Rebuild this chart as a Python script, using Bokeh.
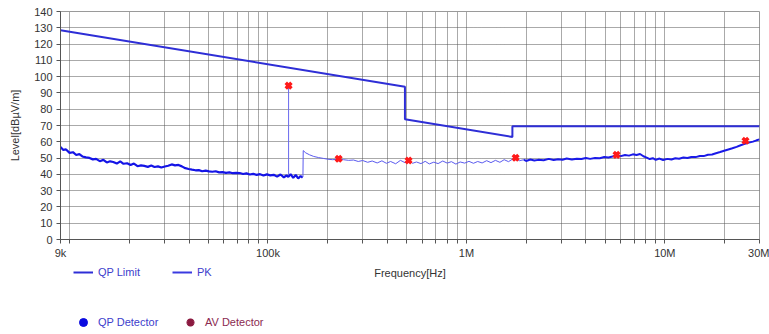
from bokeh.plotting import figure
from bokeh.layouts import column
from bokeh.models import (Range1d, FixedTicker, CustomJSTickFormatter, Legend, LegendItem,
                          ColumnDataSource, Label)
from bokeh.embed import file_html
from bokeh.resources import INLINE

# ---- data ----
# limit line (QP Limit)
limit_freq = [9e3, 490e3, 490e3, 1.705e6, 1.705e6, 30e6]
limit_level = [128.5, 93.8, 73.8, 63.0, 69.5, 69.5]

# measured PK trace, 9 kHz - 150 kHz (kHz)
segA_khz = [9.0, 9.3, 9.6, 10.0, 10.4, 10.8, 11.2, 11.6, 12.1, 12.6, 13.1, 13.6, 14.2, 14.8,
            15.4, 16.0, 16.6, 17.3, 18.0, 18.7, 19.5, 20.3, 21.1, 22.0, 22.9, 23.8, 24.8,
            25.8, 26.8, 27.9, 29.0, 30.2, 31.4, 32.7, 34.0, 35.4, 36.8, 38.3, 39.8, 41.4,
            43.1, 44.8, 46.6, 48.5, 50.4, 52.4, 54.5, 56.7, 59.0, 61.4, 63.9, 66.5, 69.2,
            72.0, 74.9, 77.9, 81.0, 84.3, 87.7, 91.2, 94.9, 98.7, 102.7, 106.8, 111.1,
            115.6, 120.2, 124.0, 126.6, 127.4, 130.0, 134.0, 138.0, 142.0, 146.0, 149.5]
segA_level = [56.8, 55.0, 55.3, 53.2, 53.6, 51.9, 52.4, 51.0, 50.4, 50.1, 49.2, 49.5, 48.1, 48.9,
              47.3, 48.0, 47.6, 46.6, 48.0, 46.5, 46.8, 45.7, 46.6, 45.0, 45.5, 45.2, 44.6,
              45.4, 44.5, 44.9, 44.2, 44.8, 45.3, 46.1, 45.5, 45.8, 44.9, 43.8, 43.3, 42.9,
              42.5, 42.6, 41.9, 42.3, 41.8, 41.6, 41.9, 41.2, 41.4, 40.9, 41.2, 40.7, 40.9,
              40.8, 40.2, 40.6, 39.9, 40.3, 39.7, 40.1, 39.3, 40.0, 39.4, 39.7, 38.6,
              39.9, 38.2, 39.3, 38.5, 38.9, 40.1, 37.9, 39.6, 37.5, 39.0, 38.0]

# narrow spike at ~127 kHz
spike_khz = [127.0, 127.0]
spike_level = [39.5, 94.5]

# measured PK trace, 150 kHz - 2 MHz (kHz)
segB_khz = [150, 150.5, 155, 162, 170, 180, 190, 200, 212, 227, 240, 255, 270, 285, 300, 318,
            335, 355, 375, 395, 415, 440, 465, 490, 511, 535, 560, 590, 620, 650, 685, 720,
            760, 800, 840, 885, 930, 980, 1030, 1085, 1140, 1200, 1265, 1330, 1400, 1475,
            1550, 1630, 1710, 1770, 1850, 1950]
segB_level = [38.5, 54.6, 53.2, 52.0, 51.0, 50.3, 49.8, 49.3, 49.0, 49.4, 49.0, 48.6, 48.8, 47.9,
              48.5, 47.4, 48.2, 47.0, 48.3, 46.8, 47.9, 46.5, 48.6, 47.2, 48.6, 46.8, 47.6,
              46.6, 48.0, 46.4, 47.5, 46.6, 48.2, 46.9, 47.8, 46.3, 47.6, 46.9, 48.0, 46.8,
              47.9, 47.0, 48.4, 47.2, 48.6, 47.4, 49.0, 47.8, 49.4, 49.8, 48.4, 49.0]

# measured PK trace, 2 MHz - 30 MHz (MHz)
segC_mhz = [1.95, 2.0, 2.1, 2.2, 2.3, 2.45, 2.6, 2.75, 2.9, 3.05, 3.2, 3.4, 3.6, 3.8, 4.0, 4.2,
            4.45, 4.7, 4.95, 5.2, 5.45, 5.7, 6.0, 6.3, 6.6, 6.9, 7.2, 7.5, 7.8, 8.1, 8.4, 8.7,
            9.0, 9.4, 9.8, 10.3, 10.8, 11.3, 11.8, 12.4, 13.0, 13.6, 14.3, 15.0, 15.7, 16.5,
            17.3, 18.1, 19.0, 19.9, 20.9, 21.9, 23.0, 24.1, 25.3, 26.5, 27.8, 29.0, 30.0]
segC_level = [49.0, 48.2, 49.1, 48.5, 48.9, 48.7, 49.5, 48.8, 49.3, 49.0, 49.7, 49.1, 49.6, 49.4,
              50.1, 49.5, 50.0, 49.9, 50.7, 50.3, 51.0, 51.7, 51.2, 51.9, 51.5, 52.3, 51.9,
              52.5, 51.1, 50.3, 49.4, 49.9, 48.9, 49.7, 48.8, 49.5, 49.1, 49.9, 49.6, 50.3,
              50.0, 50.7, 50.6, 51.3, 51.2, 52.0, 52.2, 53.0, 53.7, 54.5, 55.3, 56.0, 56.9,
              57.9, 58.7, 59.5, 60.1, 60.9, 61.5]

# final measurement points
marker_freq = [127e3, 227e3, 511e3, 1.77e6, 5.71e6, 25.5e6]
marker_level = [94.5, 49.6, 48.5, 50.2, 52.0, 60.6]

# axis ticks
ytick_values = list(range(0, 141, 10))
xlabel_ticks = {9000: "9k", 100000: "100k", 1000000: "1M", 10000000: "10M", 30000000: "30M"}
xgrid_ticks = [m * 10 ** e for e in (4, 5, 6) for m in range(1, 10)] + [1e7, 2e7, 3e7]

FONT = "Liberation Sans"

p = figure(width=769, height=262, x_axis_type="log", output_backend="svg",
           toolbar_location=None, x_range=Range1d(9e3, 30e6), y_range=Range1d(0, 140),
           min_border_left=60, min_border_right=10, min_border_top=11, min_border_bottom=23)
p.outline_line_color = "#9a9a9a"
p.background_fill_color = "white"
p.border_fill_color = "white"

# grids
p.xgrid.ticker = FixedTicker(ticks=[9e3] + xgrid_ticks)
p.ygrid.ticker = FixedTicker(ticks=ytick_values)
for g in (p.xgrid, p.ygrid):
    g.grid_line_color = "#555555"
    g.grid_line_dash = "1 1"
    g.grid_line_width = 1

# axes
p.xaxis.ticker = FixedTicker(ticks=[9e3] + xgrid_ticks)
p.xaxis.formatter = CustomJSTickFormatter(
    args=dict(m={str(int(k)): v for k, v in xlabel_ticks.items()}),
    code="const k = String(Math.round(tick)); return (k in m) ? m[k] : '';")
p.yaxis.ticker = FixedTicker(ticks=ytick_values)
for ax in (p.xaxis, p.yaxis):
    ax.axis_line_color = "#555555"
    ax.major_tick_line_color = "#555555"
    ax.major_tick_out = 4
    ax.major_tick_in = 0
    ax.minor_tick_line_color = None
    ax.major_label_text_font = FONT
    ax.major_label_text_font_size = "11px"
    ax.major_label_text_color = "#333333"
    ax.axis_label_text_font = FONT
    ax.axis_label_text_font_size = "11px"
    ax.axis_label_text_font_style = "normal"
    ax.axis_label_text_color = "#333333"
p.yaxis.axis_label = "Level[dBµV/m]"
p.xaxis.major_label_standoff = 3
p.yaxis.major_label_standoff = 4
p.yaxis.axis_label_standoff = 10

# limit
p.line(limit_freq, limit_level, line_color="#2e2ed6", line_width=2)

# trace
fA = [k * 1e3 for k in segA_khz]
fB = [k * 1e3 for k in segB_khz]
fC = [m * 1e6 for m in segC_mhz]
p.line(fA, segA_level, line_color="#1414e6", line_width=2.2)
p.line([k * 1e3 for k in spike_khz], spike_level, line_color="#6a6aee", line_width=1)
p.line(fB, segB_level, line_color="#5b5bee", line_width=1)
p.line(fC, segC_level, line_color="#1a1ae8", line_width=2)

# markers
p.scatter(marker_freq, marker_level, marker="x", size=8, line_width=3.5, line_color="#ff1a1a")
p.scatter(marker_freq, marker_level, marker="square", size=5, fill_color="#ff1a1a",
          line_color=None)

# ---- lower strip: x-axis title and legends ----
# its frame is aligned under the main plot's frame (pixels 60..759)
q = figure(width=769, height=72, output_backend="svg", toolbar_location=None,
           x_range=Range1d(60, 759), y_range=Range1d(0, 72),
           x_axis_location=None, y_axis_location=None,
           min_border_left=60, min_border_right=10, min_border_top=0, min_border_bottom=0)
q.grid.visible = False
q.outline_line_color = None
q.background_fill_color = "white"
q.border_fill_color = "white"

q.add_layout(Label(x=409.5, y=62, text="Frequency[Hz]", text_align="center",
                   text_baseline="middle", text_font=FONT, text_font_size="11px",
                   text_color="#333333"))

nan = float("nan")
dummy = ColumnDataSource(data=dict(x=[nan], y=[nan]))
r_lim_leg = q.line("x", "y", source=dummy, line_color="#2e2ed6", line_width=2)
r_pk_leg = q.line("x", "y", source=dummy, line_color="#3a3ae0", line_width=2)
r_qp = q.scatter("x", "y", source=dummy, marker="circle", size=7, fill_color="#0a0ae0",
                 line_color="#0a0ae0")
r_av = q.scatter("x", "y", source=dummy, marker="asterisk", size=8, line_width=2.5,
                 line_color="#8b1a40")


def add_leg(label, renderer, loc, color):
    lg = Legend(items=[LegendItem(label=label, renderers=[renderer])], location=loc,
                orientation="horizontal", border_line_color=None, background_fill_alpha=0,
                padding=0, margin=0, spacing=0, glyph_width=20, glyph_height=20,
                label_height=20, label_standoff=5, label_text_font=FONT,
                label_text_font_size="11px", label_text_color=color)
    q.add_layout(lg, "center")


add_leg("QP Limit", r_lim_leg, (13, 52), "#4040cc")
add_leg("PK", r_pk_leg, (112, 52), "#4040cc")
add_leg("QP Detector", r_qp, (13, 2), "#4040cc")
add_leg("AV Detector", r_av, (120, 2), "#8b2a50")

layout = column(p, q, spacing=0)
open("out.html", "w").write(file_html(layout, INLINE))
